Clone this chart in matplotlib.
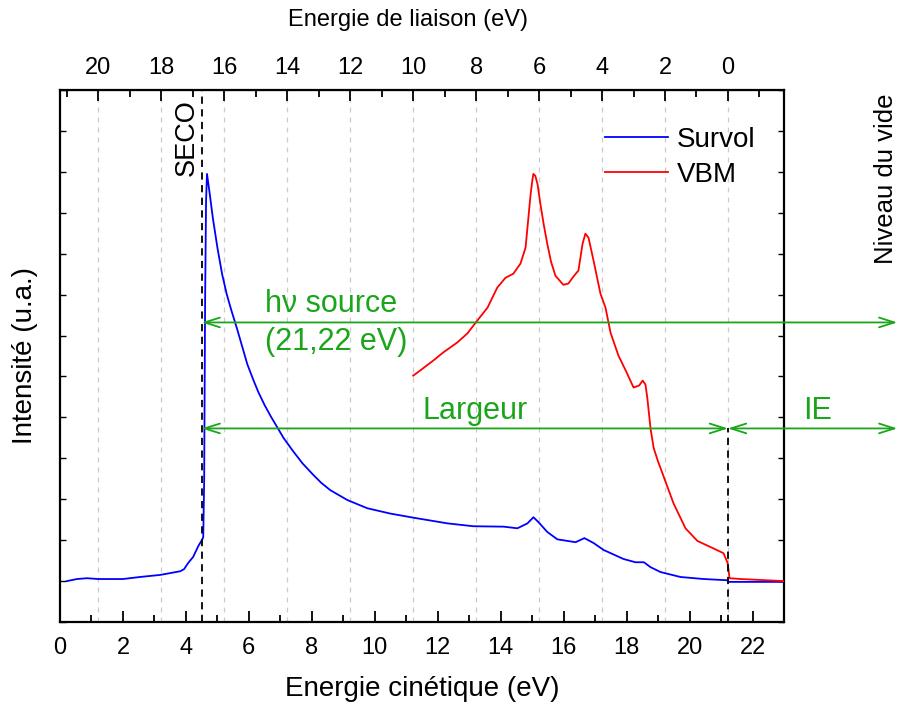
import matplotlib
matplotlib.use("Agg")
import matplotlib.pyplot as plt
from matplotlib.ticker import MultipleLocator, NullFormatter

plt.rcParams['font.family'] = ['Liberation Sans', 'DejaVu Sans']

HV = 21.22
SECO = 4.5

# Survol spectrum (kinetic energy eV, intensity a.u.)
survol_x = [0.22, 0.54, 0.86, 1.21, 2.00, 2.54, 3.18, 3.82, 3.94, 4.07, 4.23, 4.39, 4.52, 4.55,
            4.58, 4.61, 4.64, 4.67, 4.75, 4.86, 5.00, 5.15, 5.30, 5.45, 5.63, 5.80, 5.95, 6.15,
            6.30, 6.50, 6.70, 6.90, 7.10, 7.38, 7.70, 8.04, 8.30, 8.59, 9.13, 9.76, 10.49, 11.22,
            12.31, 13.13, 14.09, 14.53, 14.85, 15.04, 15.20, 15.48, 15.80, 16.38, 16.66, 16.95,
            17.27, 17.90, 18.28, 18.55, 18.76, 19.08, 19.71, 20.45, 21.21, 21.24, 21.62, 23.0]
survol_y = [1.00, 1.05, 1.07, 1.05, 1.05, 1.10, 1.15, 1.24, 1.29, 1.44, 1.59, 1.85, 2.02, 2.07,
            3.46, 7.85, 10.29, 10.95, 10.50, 9.85, 9.15, 8.50, 8.00, 7.60, 7.15, 6.70, 6.30, 5.90,
            5.62, 5.30, 5.02, 4.76, 4.50, 4.20, 3.88, 3.60, 3.40, 3.22, 2.98, 2.78, 2.65, 2.55,
            2.41, 2.34, 2.33, 2.29, 2.41, 2.56, 2.44, 2.20, 2.02, 1.95, 2.05, 1.93,
            1.76, 1.54, 1.46, 1.46, 1.34, 1.22, 1.10, 1.05, 1.02, 0.98, 0.98, 0.98]

# VBM spectrum
vbm_x = [11.22, 11.45, 11.86, 12.18, 12.62, 12.94, 13.26, 13.58, 13.89, 14.15, 14.40, 14.63, 14.79,
         14.88, 14.95, 15.01, 15.04, 15.10, 15.17, 15.26, 15.37, 15.48, 15.60, 15.74, 15.99, 16.15,
         16.31, 16.47, 16.60, 16.69, 16.79, 16.95, 17.17, 17.33, 17.49, 17.74, 18.00, 18.22, 18.40,
         18.51, 18.60, 18.66, 18.76, 18.86, 19.00, 19.14, 19.49, 19.87, 20.25, 20.67, 21.08, 21.21,
         21.27, 21.62, 22.99]
vbm_y = [6.02, 6.15, 6.39, 6.59, 6.83, 7.05, 7.37, 7.68, 8.17, 8.41, 8.51, 8.76, 9.15,
         9.88, 10.45, 10.82, 10.95, 10.90, 10.70, 10.22, 9.70, 9.24, 8.80, 8.46, 8.24, 8.27,
         8.44, 8.59, 9.24, 9.49, 9.39, 8.83, 8.02, 7.68, 7.07, 6.51, 6.10, 5.73, 5.78,
         5.90, 5.80, 5.46, 4.73, 4.25, 3.92, 3.63, 2.90, 2.29, 1.98, 1.83, 1.68, 1.44,
         1.07, 1.05, 1.00]

binding_ticks = [20, 18, 16, 14, 12, 10, 8, 6, 4, 2, 0]

GREEN = '#1aa51a'

fig = plt.figure(figsize=(8.99, 7.04), dpi=100)
ax = fig.add_axes([60/899, 1-622/704, 724/899, 532/704])

# grid at binding energy ticks
for be in binding_ticks:
    ax.axvline(HV - be, color='#cccccc', ls=(0, (4, 4)), lw=0.9, zorder=0)

ax.plot(survol_x, survol_y, color='#0000ff', lw=1.3, label='Survol', zorder=3)
ax.plot(vbm_x, vbm_y, color='#ff0000', lw=1.3, label='VBM', zorder=3)

ax.set_xlim(0, 23)
ax.set_ylim(0, 13)

# dashed markers
ax.axvline(SECO, color='black', ls=(0, (4, 3)), lw=1.3, zorder=4)
y_larg = 4.73
ax.plot([HV, HV], [0, y_larg], color='black', ls=(0, (4, 3)), lw=1.3, zorder=4)

# arrows
arrow_kw = dict(arrowstyle='<->,head_length=1.1,head_width=0.35', color=GREEN, lw=1.3,
                shrinkA=0, shrinkB=0)
ax.annotate('', xy=(SECO, 7.32), xytext=(26.6, 7.32), arrowprops=arrow_kw,
            annotation_clip=False)
ax.annotate('', xy=(SECO, y_larg), xytext=(HV, y_larg), arrowprops=arrow_kw,
            annotation_clip=False)
ax.annotate('', xy=(HV, y_larg), xytext=(26.6, y_larg), arrowprops=arrow_kw,
            annotation_clip=False)

ax.text(6.52, 7.78, 'hν source', color=GREEN, fontsize=22, ha='left', va='center')
ax.text(6.52, 6.85, '(21,22 eV)', color=GREEN, fontsize=22, ha='left', va='center')
ax.text(13.2, 5.15, 'Largeur', color=GREEN, fontsize=22, ha='center', va='center')
ax.text(24.07, 5.15, 'IE', color=GREEN, fontsize=22, ha='center', va='center')

ax.text(4.04, 11.83, 'SECO', rotation=90, fontsize=19.5, ha='center', va='center')
ax.text(26.25, 10.83, 'Niveau du vide', rotation=90, fontsize=18.5, ha='center', va='center',
        clip_on=False)

# ticks
ax.xaxis.set_major_locator(MultipleLocator(2))
ax.xaxis.set_minor_locator(MultipleLocator(1))
ax.yaxis.set_major_locator(MultipleLocator(1))
ax.yaxis.set_major_formatter(NullFormatter())
ax.tick_params(axis='x', which='major', direction='in', length=8, width=1.3, labelsize=17, pad=11)
ax.tick_params(axis='x', which='minor', direction='in', length=5, width=1.3)
ax.tick_params(axis='y', which='major', direction='in', length=4, width=1.0, right=True)
for s in ax.spines.values():
    s.set_linewidth(1.6)

ax.set_xlabel('Energie cinétique (eV)', fontsize=20, labelpad=12)
ax.set_ylabel('Intensité (u.a.)', fontsize=20, labelpad=12)

top = ax.secondary_xaxis('top', functions=(lambda x: HV - x, lambda b: HV - b))
top.set_xticks(binding_ticks)
top.xaxis.set_minor_locator(MultipleLocator(1))
top.tick_params(axis='x', which='major', direction='in', length=8, width=1.3, labelsize=17, pad=8)
top.tick_params(axis='x', which='minor', direction='in', length=5, width=1.3)
fig.text(407.5 / 899, 1 - 20 / 704, 'Energie de liaison (eV)', fontsize=17,
         ha='center', va='center')

leg = ax.legend(loc='upper left', bbox_to_anchor=(0.7376, 0.951), frameon=False, fontsize=20,
                handlelength=2.27, handletextpad=0.32, labelspacing=0.32, borderaxespad=0)

fig.savefig('out.png', dpi=100)
